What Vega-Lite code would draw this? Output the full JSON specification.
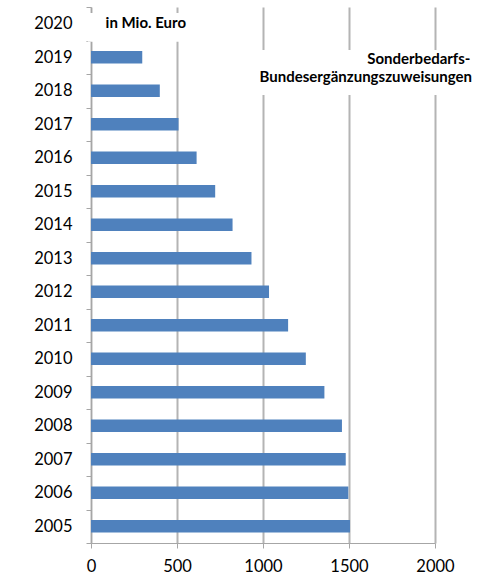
{
  "$schema": "https://vega.github.io/schema/vega-lite/v6.json",
  "width": 344,
  "height": 536,
  "autosize": {"type": "none"},
  "padding": {"left": 91, "top": 7, "right": 42, "bottom": 36},
  "config": {"view": {"stroke": null}, "font": "Lato"},
  "resolve": {"scale": {"y": "independent"}},
  "layer": [
    {
      "data": {"values": [
        {"year": "2005", "value": 1506},
        {"year": "2006", "value": 1496},
        {"year": "2007", "value": 1481},
        {"year": "2008", "value": 1459},
        {"year": "2009", "value": 1357},
        {"year": "2010", "value": 1249},
        {"year": "2011", "value": 1146},
        {"year": "2012", "value": 1035},
        {"year": "2013", "value": 933},
        {"year": "2014", "value": 823},
        {"year": "2015", "value": 722},
        {"year": "2016", "value": 614},
        {"year": "2017", "value": 509},
        {"year": "2018", "value": 400},
        {"year": "2019", "value": 298},
        {"year": "2020", "value": 0}
      ]},
      "mark": {"type": "bar", "color": "#4f81bd", "height": {"band": 0.38}},
      "encoding": {
        "y": {
          "field": "year", "type": "nominal", "sort": "descending",
          "scale": {"paddingInner": 0, "paddingOuter": 0},
          "axis": {"title": null, "tickBand": "extent", "grid": false, "domainColor": "#a6a6a6", "tickColor": "#a6a6a6", "tickSize": 5, "labelFontSize": 16.5, "labelColor": "#000000", "labelPadding": 14, "labelFont": "Lato"}
        },
        "x": {
          "field": "value", "type": "quantitative",
          "scale": {"domain": [0, 2000], "nice": false},
          "axis": {"title": null, "values": [0, 500, 1000, 1500, 2000], "format": "d", "grid": true, "gridColor": "#b4b4b4", "gridWidth": 2, "domainColor": "#a6a6a6", "tickColor": "#a6a6a6", "tickSize": 5, "labelFontSize": 16.5, "labelColor": "#000000", "labelPadding": 10, "labelFlush": false, "labelFont": "Lato"}
        }
      }
    },
    {
      "data": {"values": [{}]},
      "mark": {"type": "rect", "color": "white"},
      "encoding": {
        "x": {"datum": -20, "type": "quantitative"},
        "x2": {"datum": 560},
        "y": {"datum": 2020.32, "type": "quantitative", "scale": {"domain": [2004.5, 2020.5], "nice": false, "zero": false}, "axis": null},
        "y2": {"datum": 2019.46}
      }
    },
    {
      "data": {"values": [{}]},
      "mark": {"type": "rect", "color": "white"},
      "encoding": {
        "x": {"datum": 890, "type": "quantitative"},
        "x2": {"datum": 2220},
        "y": {"datum": 2019.22, "type": "quantitative", "scale": {"domain": [2004.5, 2020.5], "nice": false, "zero": false}, "axis": null},
        "y2": {"datum": 2017.87}
      }
    },
    {
      "data": {"values": [{}]},
      "mark": {"type": "text", "align": "left", "baseline": "alphabetic", "font": "Lato", "fontWeight": "bold", "fontSize": 15, "color": "#000000"},
      "encoding": {
        "x": {"datum": 85, "type": "quantitative"},
        "y": {"datum": 2019.88, "type": "quantitative", "scale": {"domain": [2004.5, 2020.5], "nice": false, "zero": false}, "axis": null},
        "text": {"value": "in Mio. Euro"}
      }
    },
    {
      "data": {"values": [{}]},
      "mark": {"type": "text", "align": "right", "baseline": "alphabetic", "font": "Lato", "fontWeight": "bold", "fontSize": 15, "color": "#000000"},
      "encoding": {
        "x": {"datum": 2206, "type": "quantitative"},
        "y": {"datum": 2018.8, "type": "quantitative", "scale": {"domain": [2004.5, 2020.5], "nice": false, "zero": false}, "axis": null},
        "text": {"value": "Sonderbedarfs-"}
      }
    },
    {
      "data": {"values": [{}]},
      "mark": {"type": "text", "align": "right", "baseline": "alphabetic", "font": "Lato", "fontWeight": "bold", "fontSize": 15, "color": "#000000"},
      "encoding": {
        "x": {"datum": 2215, "type": "quantitative"},
        "y": {"datum": 2018.27, "type": "quantitative", "scale": {"domain": [2004.5, 2020.5], "nice": false, "zero": false}, "axis": null},
        "text": {"value": "Bundesergänzungszuweisungen"}
      }
    }
  ]
}
